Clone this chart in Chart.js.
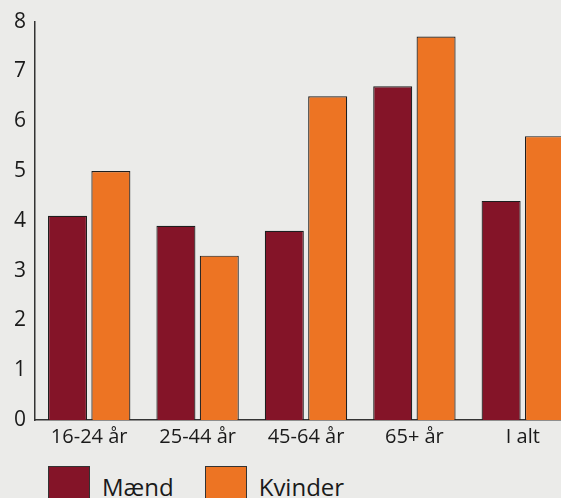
<!DOCTYPE html>
<html>
<head>
<meta charset="utf-8">
<script src="https://cdn.jsdelivr.net/npm/chart.js@4"></script>
<style>
  html, body { margin:0; padding:0; background:#ebebe9; width:561px; height:498px; overflow:hidden; }
  #wrap { position:absolute; left:0; top:0; width:577px; height:454px; }
  #legend { position:absolute; left:48px; top:466px; display:flex; align-items:center; font-family:"Open Sans", sans-serif; font-size:24px; color:#1a1a1a; }
  .item { display:flex; align-items:center; margin-right:31px; }
  .box { width:40px; height:40px; border:1px solid #333; box-sizing:content-box; }
  .lbl { margin-left:12px; line-height:42px; }
</style>
</head>
<body>
<div id="wrap"><canvas id="c"></canvas></div>
<div id="legend"></div>
<script>
const categories = ["16-24 år", "25-44 år", "45-64 år", "65+ år", "I alt"];
const maend = [4.1, 3.9, 3.8, 6.7, 4.4];
const kvinder = [5.0, 3.3, 6.5, 7.7, 5.7];
const seriesNames = ["Mænd", "Kvinder"];
const seriesColors = ["#841428", "#ed7423"];
const yTicks = [0, 1, 2, 3, 4, 5, 6, 7, 8];

const font = "'Open Sans', sans-serif";
const chart = new Chart(document.getElementById('c'), {
  type: 'bar',
  data: {
    labels: categories,
    datasets: [
      { label: seriesNames[0], data: maend, backgroundColor: seriesColors[0], borderColor: '#1e1e1e', borderWidth: 1.2 },
      { label: seriesNames[1], data: kvinder, backgroundColor: seriesColors[1], borderColor: '#1e1e1e', borderWidth: 1.2 }
    ]
  },
  options: {
    responsive: true,
    maintainAspectRatio: false,
    animation: false,
    layout: { padding: { left: 14, top: 8, right: 0, bottom: 0 } },
    datasets: { bar: { categoryPercentage: 0.8, barPercentage: 0.9 } },
    plugins: { legend: { display: false }, tooltip: { enabled: false } },
    scales: {
      x: {
        afterFit: (s) => { s.paddingLeft = 0; s.paddingRight = 0; },
        grid: { display: false, drawTicks: false },
        border: { display: true, color: '#333', width: 1.5 },
        ticks: { padding: 5, color: '#1a1a1a', font: { family: font, size: 20 }, maxRotation: 0 }
      },
      y: {
        min: 0, max: 8,
        afterBuildTicks: (s) => { s.ticks = yTicks.map(v => ({ value: v })); },
        afterFit: (s) => { s.width = 21; },
        grid: { display: false, drawTicks: false },
        border: { display: true, color: '#333', width: 1.5 },
        ticks: { padding: 9, color: '#1a1a1a', font: { family: font, size: 21 } }
      }
    }
  }
});

const legend = document.getElementById('legend');
chart.data.datasets.forEach(ds => {
  const item = document.createElement('div');
  item.className = 'item';
  const box = document.createElement('div');
  box.className = 'box';
  box.style.background = ds.backgroundColor;
  const lbl = document.createElement('span');
  lbl.className = 'lbl';
  lbl.textContent = ds.label;
  item.appendChild(box);
  item.appendChild(lbl);
  legend.appendChild(item);
});
</script>
</body>
</html>
